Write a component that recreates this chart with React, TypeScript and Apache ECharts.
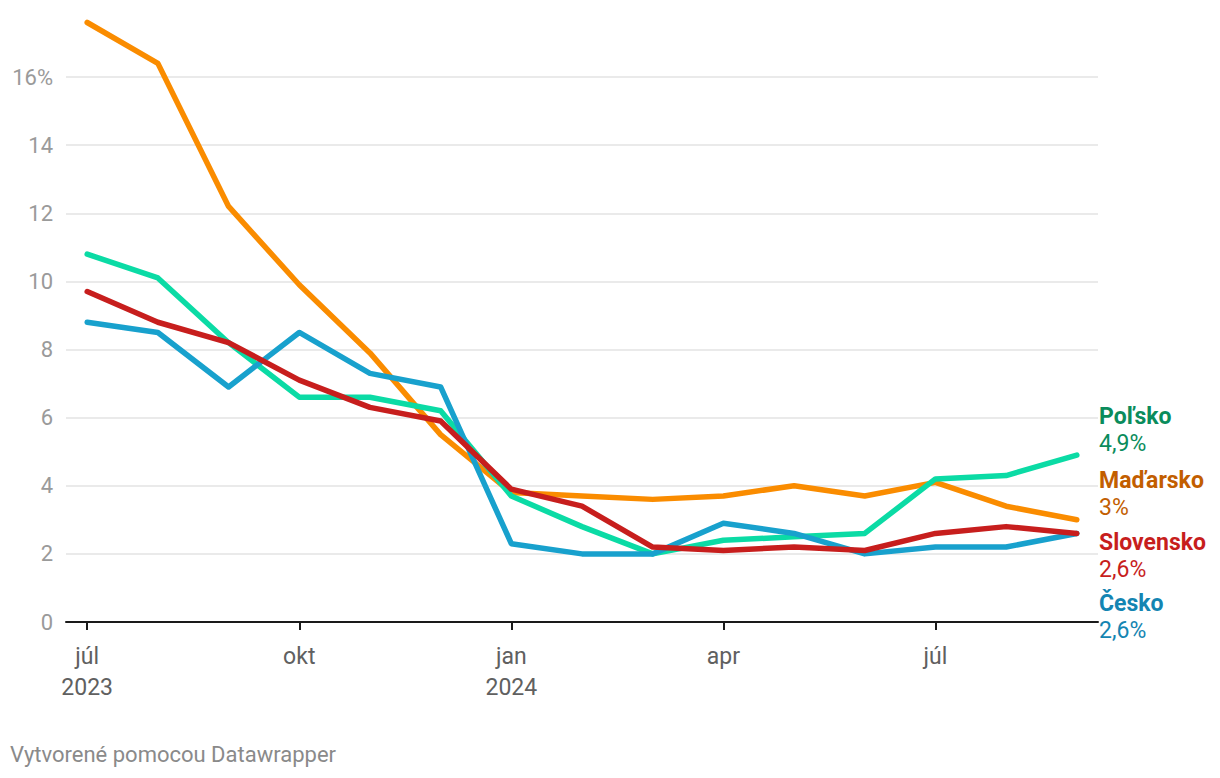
import React, { useEffect, useRef } from "react";
import * as echarts from "echarts";

const months = ["júl\n2023", "aug", "sep", "okt", "nov", "dec", "jan\n2024", "feb", "mar", "apr", "máj", "jún", "júl", "aug", "sep"];
const tickIndexes = [0, 3, 6, 9, 12];
const yTicks = [0, 2, 4, 6, 8, 10, 12, 14, 16];

const madarsko = [17.6, 16.4, 12.2, 9.9, 7.9, 5.5, 3.8, 3.7, 3.6, 3.7, 4.0, 3.7, 4.1, 3.4, 3.0];
const polsko = [10.8, 10.1, 8.2, 6.6, 6.6, 6.2, 3.7, 2.8, 2.0, 2.4, 2.5, 2.6, 4.2, 4.3, 4.9];
const slovensko = [9.7, 8.8, 8.2, 7.1, 6.3, 5.9, 3.9, 3.4, 2.2, 2.1, 2.2, 2.1, 2.6, 2.8, 2.6];
const cesko = [8.8, 8.5, 6.9, 8.5, 7.3, 6.9, 2.3, 2.0, 2.0, 2.9, 2.6, 2.0, 2.2, 2.2, 2.6];

const seriesDefs = [
  { name: "Maďarsko", data: madarsko, color: "#fa8c00", labelColor: "#c25e00", valueText: "3%", labelY: 483 },
  { name: "Poľsko", data: polsko, color: "#0bdba5", labelColor: "#0a8c5c", valueText: "4,9%", labelY: 419 },
  { name: "Česko", data: cesko, color: "#18a1cd", labelColor: "#1485b2", valueText: "2,6%", labelY: 606 },
  { name: "Slovensko", data: slovensko, color: "#c71e1d", labelColor: "#c71e1d", valueText: "2,6%", labelY: 545 },
];

export default function App() {
  const ref = useRef<HTMLDivElement>(null);
  useEffect(() => {
    document.body.style.margin = "0";
    const chart = echarts.init(ref.current!, null, { renderer: "svg" });
    const font = "Roboto, 'Noto Sans', sans-serif";
    const graphics: any[] = [];
    seriesDefs.forEach((s) => {
      graphics.push({
        type: "text",
        left: 1099,
        top: s.labelY - 14,
        style: { text: s.name, fill: s.labelColor, font: `bold 23px ${font}` },
      });
      graphics.push({
        type: "text",
        left: 1099,
        top: s.labelY + 13,
        style: { text: s.valueText, fill: s.labelColor, font: `23px ${font}` },
      });
    });
    graphics.push({
      type: "text",
      left: 10,
      top: 743,
      style: { text: "Vytvorené pomocou Datawrapper", fill: "#8a8a8a", font: `22px ${font}` },
    });
    chart.setOption({
      animation: false,
      backgroundColor: "#ffffff",
      textStyle: { fontFamily: font },
      grid: { left: 66, right: 122, top: 77, bottom: 156, containLabel: false },
      xAxis: {
        type: "value",
        min: -0.3,
        max: 14.3,
        splitLine: { show: false },
        axisLine: { show: true, onZero: false, lineStyle: { color: "#1a1a1a", width: 2 } },
        axisTick: { show: true, customValues: tickIndexes, length: 8, lineStyle: { color: "#1a1a1a", width: 2 } },
        axisLabel: {
          customValues: tickIndexes,
          formatter: (v: number) => months[Math.round(v)],
          color: "#606060",
          fontSize: 23,
          lineHeight: 31,
          margin: 19,
          fontFamily: font,
        },
      },
      yAxis: {
        type: "value",
        min: 0,
        max: 16,
        interval: 2,
        axisLine: { show: false },
        axisTick: { show: false },
        splitLine: { lineStyle: { color: "#e3e3e3", width: 1.5 } },
        axisLabel: {
          formatter: (v: number) => (v === yTicks[yTicks.length - 1] ? `${v}%` : String(v)),
          color: "#9a9a9a",
          fontSize: 22,
          margin: 13,
          fontFamily: font,
        },
      },
      series: seriesDefs.map((s) => ({
        name: s.name,
        type: "line",
        data: s.data.map((v, i) => [i, v]),
        showSymbol: false,
        symbol: "none",
        clip: false,
        lineStyle: { color: s.color, width: 5.5, cap: "round", join: "round" },
        itemStyle: { color: s.color },
      })),
      graphic: graphics,
    });
    return () => chart.dispose();
  }, []);
  return <div ref={ref} style={{ position: "absolute", left: 0, top: 0, width: 1220, height: 778 }} />;
}
